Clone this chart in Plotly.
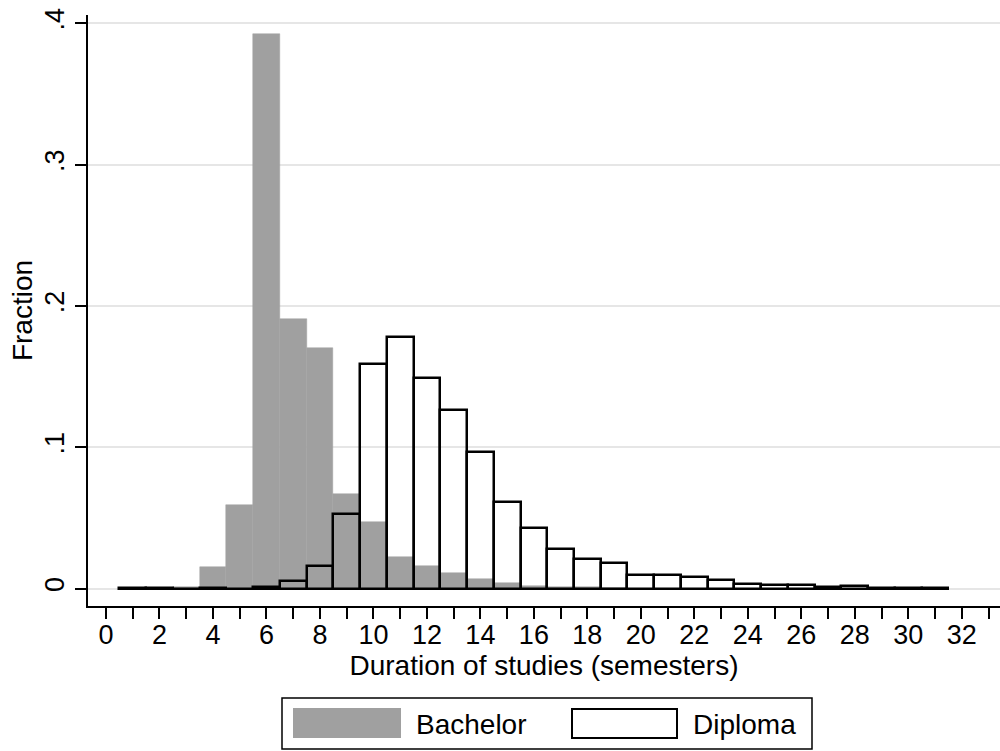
import plotly.graph_objects as go

semesters = list(range(1, 32))
bachelor = [0, 0, 0.0015, 0.0151, 0.0589, 0.3924, 0.1907, 0.170, 0.067, 0.047,
            0.0222, 0.0163, 0.0109, 0.0069, 0.0042, 0.002, 0.0015, 0.001, 0.0005, 0,
            0, 0, 0, 0, 0, 0, 0, 0, 0, 0, 0]
diploma = [0.0005, 0.0005, 0, 0.0005, 0, 0.0015, 0.0052, 0.0163, 0.053, 0.1589,
           0.178, 0.149, 0.1263, 0.0966, 0.061, 0.043, 0.0277, 0.0208, 0.0184, 0.0097,
           0.0099, 0.0083, 0.0059, 0.003, 0.0028, 0.0024, 0.0014, 0.0016, 0.0005, 0.0004, 0.0003]
x_ticks = list(range(0, 34))
x_ticktext = [str(v) if v % 2 == 0 else "" for v in x_ticks]
y_ticks = [0, 0.1, 0.2, 0.3, 0.4]
y_ticktext = ["0", ".1", ".2", ".3", ".4"]

FONT = "Liberation Sans, Arial, sans-serif"
W, H = 1000, 751
L, R, T, B = 88, 0, 15, 145
PW, PH = W - L - R, H - T - B

def px(xp):
    return (xp - L) / PW

def py(yp):
    return (H - B - yp) / PH

fig = go.Figure()
fig.add_trace(go.Bar(x=semesters, y=bachelor, width=1, name="Bachelor",
                     marker=dict(color="#a0a0a0", line=dict(color="#a0a0a0", width=0.5)),
                     showlegend=False))
fig.add_trace(go.Bar(x=semesters, y=diploma, width=1, name="Diploma",
                     marker=dict(color="rgba(0,0,0,0)", line=dict(color="black", width=2.5)),
                     showlegend=False))

shapes = [
    dict(type="rect", xref="paper", yref="paper", x0=px(282), x1=px(812), y0=py(749), y1=py(698),
         line=dict(color="black", width=1.5), fillcolor="white"),
    dict(type="rect", xref="paper", yref="paper", x0=px(293), x1=px(401), y0=py(738), y1=py(708),
         line=dict(width=0), fillcolor="#a0a0a0"),
    dict(type="rect", xref="paper", yref="paper", x0=px(572), x1=px(677), y0=py(738), y1=py(709),
         line=dict(color="black", width=2), fillcolor="white"),
]
annotations = [
    dict(text="Bachelor", xref="paper", yref="paper", x=px(414), y=py(724), xanchor="left",
         yanchor="middle", showarrow=False, font=dict(size=28, color="black", family=FONT)),
    dict(text="Diploma", xref="paper", yref="paper", x=px(691), y=py(724), xanchor="left",
         yanchor="middle", showarrow=False, font=dict(size=28, color="black", family=FONT)),
]

fig.update_layout(
    width=W, height=H,
    margin=dict(l=L, r=R, t=T, b=B, pad=0),
    paper_bgcolor="white", plot_bgcolor="white",
    barmode="overlay", bargap=0,
    font=dict(family=FONT, size=27, color="black"),
    shapes=shapes, annotations=annotations,
    xaxis=dict(range=[-0.673, 33.43], tickmode="array", tickvals=x_ticks, ticktext=x_ticktext,
               ticks="outside", ticklen=11, tickwidth=1.5, tickcolor="black",
               showline=True, linecolor="black", linewidth=1.5, showgrid=False, zeroline=False,
               tickfont=dict(size=27), ticklabelstandoff=-7, automargin=False,
               title=dict(text="Duration of studies (semesters)", font=dict(size=28), standoff=0)),
    yaxis=dict(range=[-0.0123, 0.4059], tickmode="array", tickvals=y_ticks, ticktext=y_ticktext,
               ticks="outside", ticklen=11, tickwidth=1.5, tickcolor="black", tickangle=-90,
               showline=True, linecolor="black", linewidth=1.5,
               showgrid=True, gridcolor="#e6e6e6", gridwidth=1.7, zeroline=False,
               tickfont=dict(size=27), ticklabelstandoff=0, automargin=False,
               title=dict(text="Fraction", font=dict(size=28), standoff=0)),
)

fig.write_html("out.html", config={"displayModeBar": False},
               post_script="document.body.style.margin='0';document.body.style.overflow='hidden';")
